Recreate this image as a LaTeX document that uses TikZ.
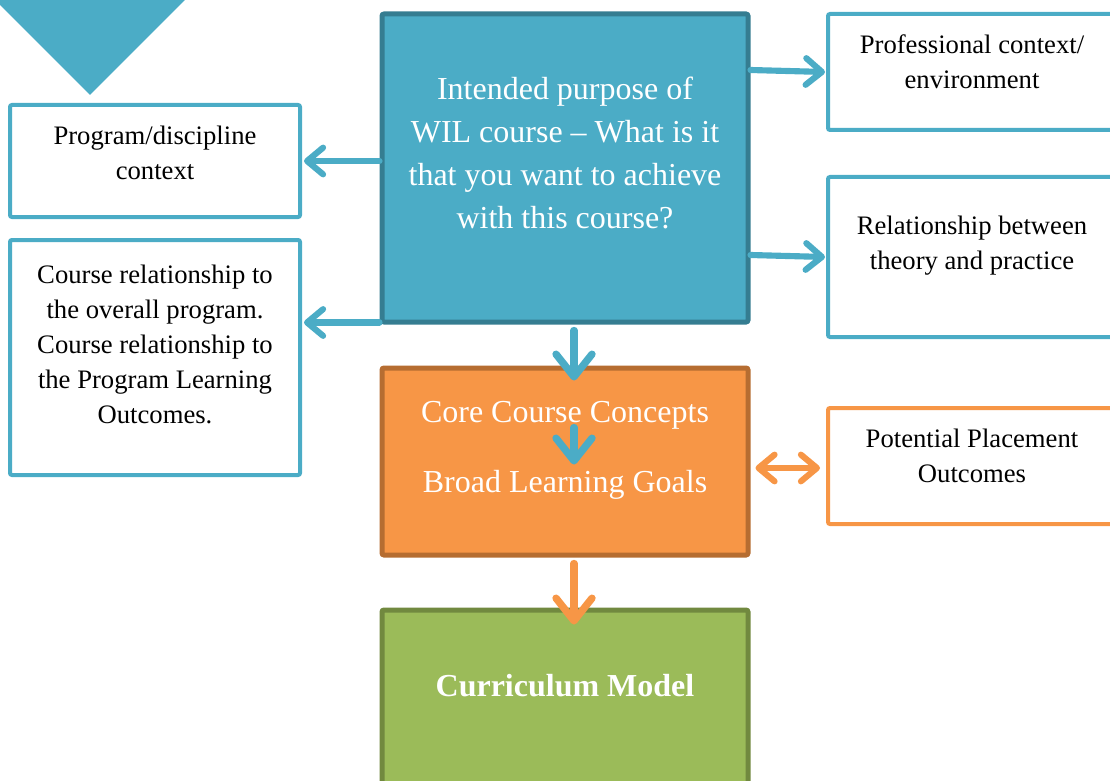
\documentclass[tikz,border=0pt]{standalone}
\usepackage{fontspec}
\setmainfont{Liberation Serif}
\usetikzlibrary{arrows.meta,fit,calc}
\definecolor{wblue}{HTML}{4BACC6}
\definecolor{wbluedk}{HTML}{357D91}
\definecolor{worange}{HTML}{F79646}
\definecolor{worangedk}{HTML}{B66D31}
\definecolor{wgreen}{HTML}{9BBB59}
\definecolor{wgreendk}{HTML}{71893F}
\begin{document}
\begin{tikzpicture}[x=0.75pt,y=-0.75pt,
  outbox/.style={draw=#1, line width=3pt, rounded corners=1.5pt, fill=white, inner sep=0pt},
  colbox/.style={line width=3.75pt, rounded corners=1.5pt, inner sep=0pt},
  small/.style={font=\fontsize{20}{26.25}\selectfont, align=center, inner sep=0pt},
  big/.style={font=\fontsize{24}{32.25}\selectfont, align=center, text=white, inner sep=0pt},
  sidearrow/.style={draw=#1, line width=4.6pt, line cap=round, -{Straight Barb[length=12pt,width=20pt,line cap=round,line join=round]}},
  downarrow/.style={draw=#1, line width=5.5pt, line cap=round, -{Straight Barb[length=17pt,width=27pt,line cap=round,line join=round]}},
  dblarrow/.style={draw=#1, line width=4.6pt, line cap=round, {Straight Barb[length=12pt,width=20pt,line cap=round,line join=round]}-{Straight Barb[length=12pt,width=20pt,line cap=round,line join=round]}}
]
\useasboundingbox (0,0) rectangle (1110,781);
\clip (0,0) rectangle (1110,781);

% triangle
\fill[wblue] (-5,0) -- (185,0) -- (90,95) -- cycle;

% boxes
\node[outbox=wblue, fit={(10,105) (300,217)}] (prog) {};
\node[outbox=wblue, fit={(10,240) (300,475)}] (course) {};
\node[outbox=wblue, fit={(828,14) (1130,130)}] (prof) {};
\node[outbox=wblue, fit={(828,177) (1130,337)}] (rel) {};
\node[outbox=worange, fit={(828,408) (1130,524)}] (place) {};
\node[colbox, draw=wbluedk, fill=wblue, fit={(382,14) (748,322)}] (blue) {};
\node[colbox, draw=worangedk, fill=worange, fit={(382,368) (748,555)}] (orange) {};
\node[colbox, draw=wgreendk, fill=wgreen, fit={(382,610) (748,800)}] (green) {};

% texts
\node[small] (progt) at (155,153) {Program/discipline\\context};
\node[small] (courset) at (155,344) {Course relationship to\\the overall program.\\Course relationship to\\the Program Learning\\Outcomes.};
\node[small] (proft) at (972,62) {Professional context/\\environment};
\node[small] (relt) at (972,246) {Relationship between\\theory and practice};
\node[small] (placet) at (972,456) {Potential Placement\\Outcomes};
\node[big] (bluet) at (565,153) {Intended purpose of\\WIL course – What is it\\that you want to achieve\\with this course?};
\node[big] (coret) at (565,415) {Core Course Concepts};
\node[big] (broadt) at (565,485) {Broad Learning Goals};
\node[big, font=\fontsize{24}{32.25}\selectfont\bfseries] (currt) at (565,686) {Curriculum Model};

% connectors
\draw[sidearrow=wblue] (blue.west |- prog.east) -- ($(prog.east)+(2,0)$);
\draw[sidearrow=wblue] ($(blue.south west)+(0,-2)$) -- ($(blue.south west -| course.east)+(2,-2)$);
\draw[sidearrow=wblue] ($(blue.east |- prof.west)+(0,-2)$) -- ($(prof.west)+(-1,0)$);
\draw[sidearrow=wblue] ($(blue.east |- rel.west)+(0,-2)$) -- ($(rel.west)+(-1,0)$);
\draw[downarrow=wblue] ($(blue.south)+(9,6)$) -- ($(orange.north)+(9,15)$);
\draw[downarrow=wblue] ($(orange.north)+(9,62)$) -- ($(orange.north)+(9,99)$);
\draw[dblarrow=worange] ($(orange.east |- place.west)+(5,2)$) -- ($(place.west)+(-6,2)$);
\draw[downarrow=worange] ($(orange.south)+(9,6)$) -- ($(green.north)+(9,17)$);
\end{tikzpicture}
\end{document}
